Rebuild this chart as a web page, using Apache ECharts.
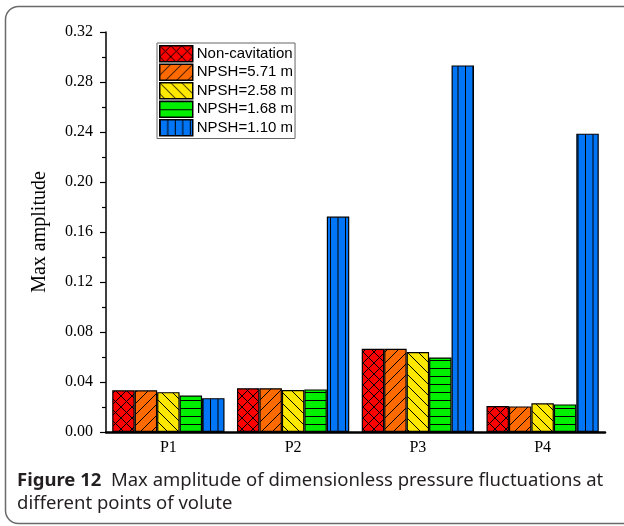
<!DOCTYPE html>
<html>
<head>
<meta charset="utf-8">
<script src="https://cdn.jsdelivr.net/npm/echarts@6/dist/echarts.min.js"></script>
<style>html,body{margin:0;padding:0;background:#fff}#c{width:624px;height:526px}</style>
</head>
<body>
<div id="c"></div>
<script>
const categories = ['P1', 'P2', 'P3', 'P4'];
const seriesNames = ['Non-cavitation', 'NPSH=5.71 m', 'NPSH=2.58 m', 'NPSH=1.68 m', 'NPSH=1.10 m'];
const nonCavitation = [0.0334, 0.0350, 0.0666, 0.0208];
const npsh571 = [0.0334, 0.0350, 0.0666, 0.0205];
const npsh258 = [0.0319, 0.0336, 0.0640, 0.0230];
const npsh168 = [0.0292, 0.0341, 0.0596, 0.0221];
const npsh110 = [0.0271, 0.1723, 0.2933, 0.2387];
const yTicks = [0, 0.04, 0.08, 0.12, 0.16, 0.20, 0.24, 0.28, 0.32];

function makePattern(fill, kind) {
  const w = kind === 'v' ? 15 : (kind === 'h' ? 8 : 11);
  const h = kind === 'h' ? 16 : (kind === 'v' ? 8 : 11);
  const c = document.createElement('canvas');
  c.width = w; c.height = h;
  const g = c.getContext('2d');
  g.fillStyle = fill; g.fillRect(0, 0, w, h);
  g.strokeStyle = '#000'; g.lineWidth = 1;
  g.beginPath();
  if (kind === 'x' || kind === '/') {
    g.moveTo(-2, w + 2); g.lineTo(w + 2, -2);
  }
  if (kind === 'x' || kind === '\\') {
    g.moveTo(-2, -2); g.lineTo(w + 2, h + 2);
  }
  if (kind === 'h') {
    g.moveTo(0, 0.5); g.lineTo(w, 0.5);
    g.moveTo(0, 8.5); g.lineTo(w, 8.5);
  }
  if (kind === 'v') {
    g.moveTo(0.5, 0); g.lineTo(0.5, h);
    g.moveTo(8, 0); g.lineTo(8, h);
  }
  g.stroke();
  return { image: c, repeat: 'repeat' };
}

const fills = [
  makePattern('#ff0000', 'x'),
  makePattern('#ff6a00', '/'),
  makePattern('#ffe800', '\\'),
  makePattern('#00f000', 'h'),
  makePattern('#0075f5', 'v')
];
const dataSets = [nonCavitation, npsh571, npsh258, npsh168, npsh110];

const chart = echarts.init(document.getElementById('c'), null, { renderer: 'canvas' });
chart.setOption({
  animation: false,
  backgroundColor: '#fff',
  grid: { left: 106, right: 19, top: 32, bottom: 94, containLabel: false },
  legend: {
    orient: 'vertical',
    left: 157, top: 43,
    itemWidth: 33, itemHeight: 16, itemGap: 1,
    padding: [2, 2, 2, 2],
    borderColor: '#666', borderWidth: 1,
    icon: 'rect',
    itemStyle: { borderColor: '#000', borderWidth: 1.5 },
    textStyle: { fontFamily: 'Liberation Sans, Arial', fontSize: 15, lineHeight: 15, color: '#000', padding: [0, 0, 0, -1] },
    data: seriesNames
  },
  xAxis: {
    type: 'category',
    data: categories,
    axisLine: { lineStyle: { color: '#000', width: 2.5 } },
    axisTick: { show: false },
    axisLabel: { color: '#000', fontFamily: 'Liberation Serif, Times New Roman', fontSize: 16, margin: 8 }
  },
  yAxis: {
    type: 'value',
    min: 0, max: 0.32, interval: 0.04,
    name: 'Max amplitude',
    nameLocation: 'middle',
    nameGap: 56,
    nameTextStyle: { color: '#000', fontFamily: 'Liberation Serif, Times New Roman', fontSize: 20 },
    axisLine: { show: true, lineStyle: { color: '#000', width: 1.5 } },
    axisTick: { show: true, inside: false, length: 6, lineStyle: { color: '#000', width: 1.2 } },
    minorTick: { show: true, splitNumber: 2, length: 4, lineStyle: { color: '#000', width: 1.2 } },
    splitLine: { show: false },
    axisLabel: {
      color: '#000', fontFamily: 'Liberation Serif, Times New Roman', fontSize: 16, margin: 13,
      formatter: v => yTicks.some(t => Math.abs(t - v) < 1e-9) ? v.toFixed(2) : ''
    }
  },
  series: seriesNames.map((n, i) => ({
    name: n,
    type: 'bar',
    data: dataSets[i],
    barGap: '0%',
    barCategoryGap: '10%',
    itemStyle: { color: fills[i], borderColor: '#000', borderWidth: 1.2 }
  })),
  graphic: [
    {
      type: 'rect', silent: true, z: 100,
      shape: { x: 5.5, y: 6.5, width: 700, height: 517, r: [13, 0, 0, 13] },
      style: { fill: 'none', stroke: '#6a6a6a', lineWidth: 1.5 }
    },
    {
      type: 'text', left: 17, top: 469, z: 100,
      style: {
        text: '{b|Figure 12}  Max amplitude of dimensionless pressure fluctuations at\ndifferent points of volute',
        fontFamily: 'Noto Sans', fontSize: 18.5, lineHeight: 23, fill: '#231f20',
        rich: { b: { fontWeight: 'bold', fontFamily: 'Noto Sans', fontSize: 18.5, lineHeight: 23, fill: '#231f20' } }
      }
    }
  ]
});
</script>
</body>
</html>
